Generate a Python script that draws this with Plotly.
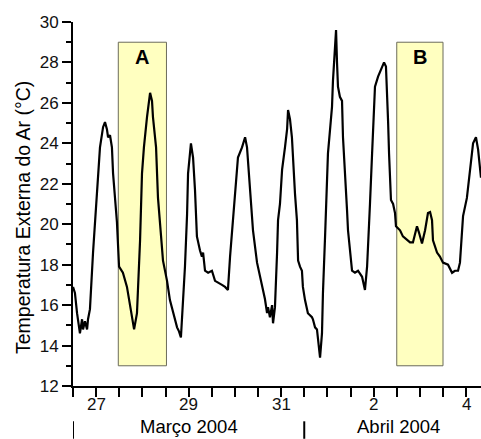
import pandas as pd
import plotly.graph_objects as go

# hours since 2004-03-27 00:00 and air temperature (°C)
hours = [0, 1.0, 2.1, 3.6, 4.7, 5.2, 6.2, 7.3, 7.8, 8.8, 10.4, 12.5, 14.0, 15.6, 16.6, 17.6, 18.2, 19.2, 20.2, 20.8, 21.8, 22.8, 23.9,
         25.9, 28.0, 29.6, 31.1, 31.7, 33.2, 34.8, 35.8, 36.8, 38.4, 40.0, 41.0, 41.5, 43.1, 44.1, 45.7, 46.7, 48.8,
         50.3, 54.0, 55.0, 56.0, 57.1, 58.1, 59.2, 59.7, 61.2, 62.3, 63.3, 64.3, 65.9, 66.9, 67.5, 68.5, 70.1, 72.1, 73.7, 75.2, 77.3, 78.9, 80.4,
         81.5, 82.5, 84.1, 85.6, 87.7, 89.3, 90.3, 91.8, 93.4, 95.5, 97.0, 98.6, 99.6, 100.7, 101.2, 102.2, 103.3, 103.8, 104.8,
         105.9, 106.4, 107.4, 108.5, 110.0, 111.1, 111.6, 112.6, 113.6, 114.2, 115.2, 116.2, 116.8, 117.8, 118.8, 119.3, 120.4, 121.9, 124.0, 124.5, 125.6, 126.6, 127.1, 128.2, 129.2,
         129.7, 130.8, 131.8, 132.3, 133.4, 134.4, 134.9, 136.0, 136.5, 137.0, 137.5, 138.5, 139.6, 140.1, 141.1, 142.2, 142.7, 143.7, 144.8, 146.3, 147.9, 150.0, 151.5,
         152.6, 153.1, 154.1, 155.2, 156.2, 156.7, 158.3, 160.3, 161.4, 162.4, 162.9, 163.5, 164.0, 165.0, 166.1, 167.1, 167.6, 169.7, 171.2, 173.3, 174.9, 176.4,
         178.5, 179.5, 181.1, 182.7, 184.2, 185.3, 186.3, 186.8, 188.9, 190.4, 192.0, 194.6, 196.7, 198.2, 199.8, 200.8, 202.4, 204.4, 206.0, 207.6, 209.1, 210.2, 211.7]
temps = [16.9, 16.6, 15.6, 14.6, 15.3, 14.8, 15.2, 14.8, 15.3, 15.8, 18.6, 21.7, 23.8, 24.8, 25.05, 24.7, 24.3, 24.4, 23.8, 22.5, 21.3, 20.1, 17.9,
         17.6, 16.9, 15.9, 15.1, 14.8, 15.6, 19.2, 22.5, 23.8, 25.3, 26.5, 26.1, 25.3, 23.8, 21.3, 19.4, 18.2, 17.2,
         16.25, 14.9, 14.7, 14.4, 16.0, 17.9, 20.5, 22.5, 24.0, 23.3, 21.7, 19.4, 18.7, 18.4, 18.6, 17.7, 17.6, 17.7, 17.2, 17.1, 17.0, 16.9, 16.75,
         18.4, 19.7, 21.3, 23.3, 23.8, 24.3, 23.8, 21.7, 19.7, 18.1, 17.4, 16.75, 16.3, 15.6, 15.9, 15.4, 16.0, 15.1, 15.9,
         18.6, 20.2, 21.0, 22.7, 23.8, 24.7, 25.65, 25.2, 24.3, 23.0, 21.5, 20.2, 18.2, 17.9, 17.7, 16.9, 16.25, 15.6, 15.4, 15.3, 14.9, 14.8, 14.4, 13.4, 14.6,
         16.6, 19.4, 21.8, 23.5, 24.7, 25.8, 27.1, 29.1, 29.6, 28.0, 26.8, 26.3, 26.1, 24.3, 22.2, 20.7, 19.7, 18.6, 17.7, 17.6, 17.7, 17.4, 16.75,
         17.9, 19.2, 21.0, 23.5, 25.3, 26.8, 27.3, 27.8, 28.0, 27.8, 26.8, 25.1, 23.5, 21.2, 21.0, 20.55, 19.9, 19.7, 19.4, 19.2, 19.1, 19.1,
         19.9, 19.6, 19.05, 19.7, 20.55, 20.6, 20.2, 19.2, 18.6, 18.4, 18.1, 18.0, 17.6, 17.7, 17.7, 18.1, 20.4, 21.3, 22.7, 24.0, 24.3, 23.7, 22.3]

start = pd.Timestamp("2004-03-27 00:00")
end = pd.Timestamp("2004-04-04 19:43")

tick_days = ["27", "29", "31", "2", "4"]
tick_day_dates = ["2004-03-27 12:00", "2004-03-29 12:00", "2004-03-31 12:00", "2004-04-02 12:00", "2004-04-04 12:00"]

month_labels = ["Março 2004", "Abril 2004"]
month_label_pos = ["2004-03-29 12:00", "2004-04-03 01:00"]
month_bounds = ["2004-03-27 00:00", "2004-04-01 00:00"]

boxes = [("A", "2004-03-27 23:30", "2004-03-29 00:30"), ("B", "2004-04-03 00:00", "2004-04-04 00:00")]
box_ylo, box_yhi = 13, 29

times = start + pd.to_timedelta(hours, unit="h")
tickvals = pd.date_range(start, "2004-04-04 12:00", freq="12h")

FONT = "Arial, Liberation Sans, sans-serif"

fig = go.Figure()
fig.add_trace(go.Scatter(x=times, y=temps, mode="lines",
                         line=dict(color="black", width=2.2), showlegend=False))

for name, x0, x1 in boxes:
    fig.add_shape(type="rect", xref="x", yref="y", x0=x0, x1=x1, y0=box_ylo, y1=box_yhi,
                  fillcolor="#FFFFC0", line=dict(color="#6b6b5a", width=1), layer="below")
    mid = pd.Timestamp(x0) + (pd.Timestamp(x1) - pd.Timestamp(x0)) / 2
    fig.add_annotation(x=mid, y=28.25, xref="x", yref="y", text="<b>%s</b>" % name,
                       showarrow=False, font=dict(family=FONT, size=20, color="black"))

# day labels (at noon of each labelled day)
for lab, pos in zip(tick_days, tick_day_dates):
    fig.add_annotation(x=pos, y=-0.0495, xref="x", yref="paper", text=lab, showarrow=False,
                       xanchor="center", yanchor="middle",
                       font=dict(family=FONT, size=17, color="#111"))

for lab, pos in zip(month_labels, month_label_pos):
    fig.add_annotation(x=pos, y=-0.1126, xref="x", yref="paper", text=lab, showarrow=False,
                       xanchor="center", yanchor="middle",
                       font=dict(family=FONT, size=18.5, color="black"))

for b in month_bounds:
    fig.add_shape(type="line", xref="x", yref="paper", x0=b, x1=b, y0=-0.097, y1=-0.145,
                  line=dict(color="black", width=2))

fig.add_annotation(x=-0.1225, y=0.4615, xref="paper", yref="paper", textangle=-90,
                   xanchor="center", yanchor="middle",
                   text="Temperatura Externa do Ar (°C)", showarrow=False,
                   font=dict(family=FONT, size=19.5, color="black"))

fig.update_layout(
    width=481, height=439,
    margin=dict(l=73, r=0, t=22, b=53),
    paper_bgcolor="white", plot_bgcolor="white",
    font=dict(family=FONT, size=17, color="black"),
    xaxis=dict(range=[start, end], tickmode="array", tickvals=tickvals, showticklabels=False,
               ticks="outside", ticklen=9, tickwidth=2, tickcolor="black",
               showline=True, linecolor="black", linewidth=2, showgrid=False, zeroline=False),
    yaxis=dict(range=[12, 30], dtick=2, tick0=12, ticks="outside", ticklen=9, tickwidth=2,
               tickcolor="black", showline=True, linecolor="black", linewidth=2,
               showgrid=False, zeroline=False,
               minor=dict(dtick=1, ticks="outside", ticklen=5, tickwidth=2, tickcolor="black", showgrid=False),
               tickfont=dict(family=FONT, size=17, color="#111")),
)

fig.write_html("out.html")
